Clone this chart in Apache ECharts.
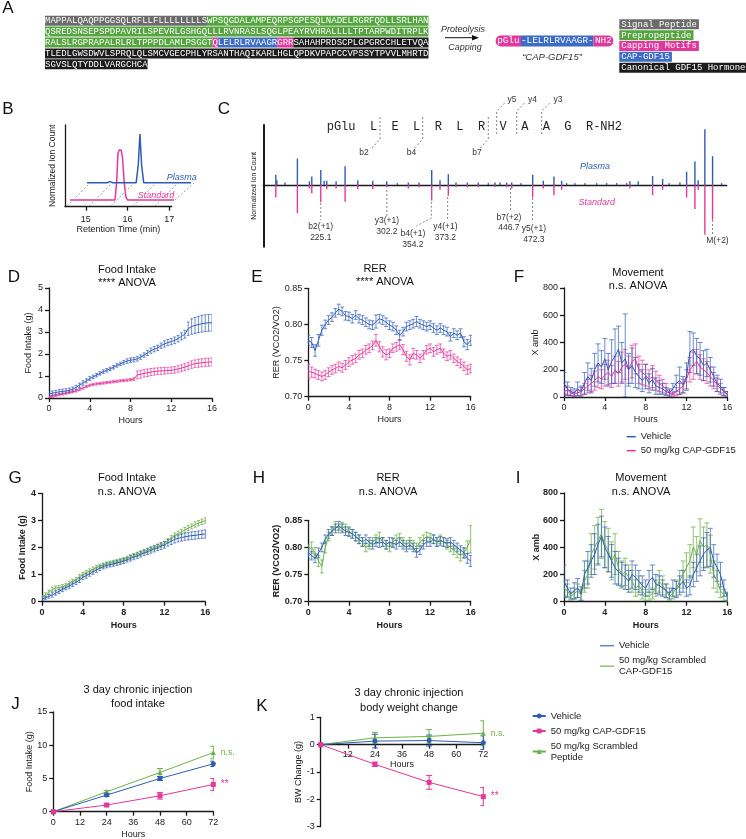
<!DOCTYPE html>
<html><head><meta charset="utf-8">
<script src="https://cdn.jsdelivr.net/npm/echarts@6/dist/echarts.min.js"></script>
<style>html,body{margin:0;padding:0;background:#fff}#c{width:746px;height:839px}</style>
</head><body><div id="c"></div>
<script>
// ================= DATA =================
// Panel A: GDF15 precursor sequence regions
const signalPeptide = 'MAPPALQAQPPGGSQLRFLLFLLLLLLLLS';
const prepropeptide = 'WPSQGDALAMPEQRPSGPESQLNADELRGRFQDLLSRLHANQSREDSNSEPSPDPAVRILSPEVRLGSHGQLLLRVNRASLSQGLPEAYRVHRALLLLTPTARPWDITRPLKRALSLRGPRAPALRLRLTPPPDLAMLPSGGT';
const capMotif1 = 'Q';
const capGdf15 = 'LELRLRVAAGR';
const capMotif2 = 'GRR';
const canonicalHormone = 'SAHAHPRDSCPLGPGRCCHLETVQATLEDLGWSDWVLSPRQLQLSMCVGECPHLYRSANTHAQIKARLHGLQPDKVPAPCCVPSSYTPVVLMHRTDSGVSLQTYDDLVARGCHCA';
const legendA = ['Signal Peptide', 'Prepropeptide', 'Capping Motifs', 'CAP-GDF15', 'Canonical GDF15 Hormone'];

// Panel B: retention time traces (min, normalized)
const stdTime = [14.62, 15.70, 15.74, 15.77, 15.80, 15.85, 15.88, 15.92, 15.96, 16.00, 17.13];
const stdSignal = [0.082, 0.082, 0.30, 0.65, 0.694, 0.69, 0.60, 0.30, 0.12, 0.082, 0.082];
const plasmaTime = [14.62, 15.10, 15.17, 15.24, 15.80, 15.85, 15.89, 15.93, 15.98, 17.25];
const plasmaSignal = [0.082, 0.082, 0.095, 0.082, 0.082, 0.30, 0.678, 0.30, 0.082, 0.082];
const retentionTicks = [15, 16, 17];

// Panel C: MS/MS spectrum (m/z, relative intensity)
const plasmaMz = [172.6,173.8,183.4,197.8,211.8,214.6,225.1,229.0,232.1,243.0,253.5,268.3,285.8,302.1,314.5,327.3,339.8,354.6,364.3,374.0,383.0,396.2,409.0,420.7,428.5,434.3,442.1,448.0,458.8,472.5,484.9,497.3,506.3,512.1,521.8,533.5,547.2,558.8,570.5,582.2,586.0,595.7,612.5,624.2,631.9,644.4,652.2,661.9,665.7,673.5,682.5,693.0];
const plasmaInt = [17,8,4,44,6,14,25,7,7,6,31,8,7,6,3,4,4,25,8,18,4,4,4,3,4,4,4,4,3,17,7,14,7,3,3,3,3,3,3,3,6,6,15,10,3,4,22,39,8,93,48,3];
const standardMz = [172.6,197.8,211.8,214.6,225.1,232.1,243.0,253.5,268.3,285.8,302.1,327.3,339.8,354.6,364.3,374.0,383.0,396.2,409.0,428.5,442.1,448.0,472.5,484.9,497.3,506.3,586.0,612.5,624.2,652.2,661.9,665.7,673.5,682.5];
const standardInt = [-21,-47,-6,-14,-29,-7,-6,-28,-7,-7,-4,-6,-4,-26,-8,-18,-4,-4,-4,-4,-4,-6,-21,-6,-17,-8,-6,-17,-8,-21,-40,-8,-83,-58];
const ionNames = ['b2(+1)', 'y3(+1)', 'b4(+1)', 'y4(+1)', 'b7(+2)', 'y5(+1)', 'M(+2)'];
const ionMz = [225.1, 302.2, 354.2, 373.2, 446.7, 472.3, 682.4];
const ionShowMz = [true, true, true, true, true, true, false];
const peptideSeq = 'pGlu  L  E  L  R  L  R  V  A  A  G  R-NH2';

// Panels D-I: time course (hours, 20-min bins)
const hours = []; for (let i = 0; i <= 48; i++) hours.push(i / 3);

const D_vehicle = [0.18,0.22,0.25,0.28,0.30,0.32, 0.35,0.40,0.48,0.58,0.68,0.78, 0.88,0.96,1.04,1.12,1.20,1.26, 1.32,1.40,1.48,1.55,1.62,1.68, 1.72,1.74,1.78,1.86,1.95,2.05, 2.15,2.22,2.28,2.38,2.46,2.52, 2.56,2.62,2.70,2.80,2.90,3.15, 3.25,3.30,3.34,3.38,3.40,3.42, 3.42];
const D_vehicleErr = [0.10,0.10,0.10,0.10,0.10,0.10, 0.10,0.10,0.10,0.10,0.10,0.09, 0.09,0.08,0.08,0.08,0.08,0.08, 0.08,0.08,0.08,0.08,0.09,0.10, 0.10,0.10,0.10,0.10,0.10,0.12, 0.12,0.12,0.12,0.12,0.14,0.14, 0.14,0.15,0.15,0.16,0.18,0.30, 0.35,0.36,0.37,0.38,0.38,0.38, 0.38];
const D_cap = [0.05,0.08,0.12,0.15,0.18,0.22, 0.25,0.28,0.32,0.38,0.45,0.52, 0.58,0.62,0.64,0.66,0.68,0.70, 0.72,0.74,0.76,0.78,0.80,0.81, 0.83,0.86,1.05,1.08,1.12,1.15, 1.18,1.20,1.22,1.23,1.24,1.25, 1.26,1.28,1.32,1.36,1.40,1.46, 1.52,1.56,1.58,1.60,1.62,1.63, 1.64];
const D_capErr = [0.05,0.05,0.05,0.05,0.05,0.05, 0.05,0.05,0.05,0.05,0.05,0.05, 0.05,0.05,0.05,0.05,0.05,0.05, 0.05,0.05,0.05,0.05,0.05,0.05, 0.05,0.06,0.18,0.18,0.17,0.17, 0.16,0.16,0.15,0.15,0.15,0.15, 0.15,0.15,0.15,0.15,0.16,0.16, 0.17,0.17,0.18,0.18,0.18,0.18, 0.18];

const E_vehicle = [0.778,0.775,0.764,0.778,0.792,0.800, 0.806,0.810,0.816,0.821,0.818,0.812, 0.811,0.808,0.813,0.808,0.806,0.803, 0.800,0.799,0.804,0.808,0.806,0.803, 0.799,0.797,0.792,0.785,0.790,0.797, 0.799,0.801,0.804,0.801,0.799,0.797, 0.799,0.795,0.792,0.795,0.792,0.790, 0.783,0.788,0.785,0.788,0.776,0.772, 0.778];
const E_vehicleErr = [0.007,0.007,0.008,0.008,0.007,0.006, 0.006,0.006,0.006,0.007,0.006,0.006, 0.006,0.006,0.006,0.006,0.006,0.006, 0.006,0.006,0.009,0.006,0.006,0.006, 0.006,0.006,0.006,0.007,0.006,0.006, 0.006,0.006,0.007,0.006,0.006,0.006, 0.006,0.006,0.006,0.006,0.006,0.006, 0.006,0.006,0.006,0.006,0.007,0.007, 0.007];
const E_cap = [0.735,0.734,0.732,0.730,0.728,0.730, 0.734,0.737,0.739,0.742,0.740,0.744, 0.748,0.751,0.753,0.758,0.760,0.765, 0.767,0.771,0.778,0.769,0.762,0.758, 0.760,0.767,0.769,0.772,0.765,0.756, 0.751,0.760,0.758,0.753,0.758,0.765, 0.767,0.762,0.765,0.767,0.760,0.756, 0.758,0.753,0.749,0.746,0.742,0.737, 0.739];
const E_capErr = [0.010,0.007,0.006,0.006,0.006,0.006, 0.006,0.006,0.006,0.006,0.006,0.006, 0.006,0.006,0.006,0.006,0.006,0.006, 0.006,0.006,0.008,0.007,0.007,0.007, 0.006,0.006,0.006,0.007,0.007,0.007, 0.007,0.007,0.006,0.006,0.006,0.006, 0.006,0.006,0.006,0.006,0.006,0.006, 0.006,0.006,0.006,0.006,0.006,0.006, 0.006];

const F_vehicle = [100,60,40,30,60,40, 100,150,120,200,250,220, 280,200,260,300,350,250, 280,200,230,180,150,120, 150,100,130,80,70,60, 40,30,60,100,120,90, 150,330,350,300,280,230, 250,200,150,100,80,40, 20];
const F_vehicleErr = [80,50,30,30,50,40, 80,100,90,120,140,120, 150,120,160,200,170,150, 330,120,130,110,90,80, 90,70,80,60,50,40, 30,30,40,60,100,60, 100,150,120,130,120,110, 100,90,70,60,50,30, 20];
const F_cap = [40,50,30,20,30,40, 60,80,100,120,150,130, 160,180,150,200,170,220, 240,200,260,280,200,180, 160,130,150,120,100,80, 60,30,20,40,60,80, 130,200,230,260,220,200, 180,150,120,90,60,40, 20];
const F_capErr = [30,30,20,15,20,30, 40,50,60,70,80,70, 80,90,80,100,90,110, 110,100,120,110,100,90, 80,70,80,70,60,50, 40,20,15,30,40,50, 70,90,100,90,90,80, 80,70,60,50,40,30, 20];

const G_vehicle = [0.10,0.14,0.20,0.25,0.32,0.38, 0.45,0.52,0.58,0.65,0.72,0.80, 0.90,0.96,1.03,1.10,1.17,1.24, 1.30,1.34,1.37,1.40,1.43,1.46, 1.50,1.55,1.60,1.65,1.70,1.75, 1.80,1.85,1.90,1.95,2.00,2.05, 2.10,2.17,2.23,2.30,2.34,2.37, 2.40,2.42,2.44,2.45,2.47,2.49, 2.50];
const G_vehicleErr = [0.06,0.07,0.07,0.08,0.08,0.08, 0.08,0.08,0.08,0.09,0.09,0.09, 0.09,0.09,0.09,0.09,0.09,0.09, 0.09,0.09,0.09,0.09,0.09,0.09, 0.09,0.09,0.10,0.10,0.10,0.10, 0.10,0.10,0.11,0.11,0.11,0.12, 0.12,0.12,0.12,0.13,0.13,0.13, 0.13,0.14,0.14,0.14,0.14,0.15, 0.15];
const G_scrambled = [0.15,0.25,0.35,0.45,0.50,0.52, 0.55,0.60,0.68,0.75,0.82,0.92, 1.00,1.07,1.13,1.20,1.26,1.31, 1.35,1.39,1.42,1.45,1.48,1.51, 1.55,1.60,1.65,1.70,1.75,1.80, 1.85,1.90,1.95,2.00,2.05,2.10, 2.15,2.25,2.35,2.45,2.52,2.58, 2.65,2.72,2.78,2.85,2.90,2.95, 3.00];
const G_scrambledErr = [0.08,0.08,0.08,0.08,0.08,0.08, 0.08,0.08,0.08,0.08,0.08,0.08, 0.08,0.08,0.08,0.08,0.08,0.08, 0.08,0.08,0.08,0.08,0.08,0.08, 0.08,0.08,0.08,0.08,0.08,0.08, 0.08,0.08,0.08,0.08,0.08,0.08, 0.08,0.08,0.09,0.09,0.09,0.09, 0.09,0.09,0.09,0.10,0.10,0.10, 0.10];

const H_vehicle = [0.790,0.785,0.780,0.790,0.800,0.815, 0.825,0.830,0.835,0.840,0.835,0.830, 0.828,0.825,0.820,0.815,0.810,0.815, 0.810,0.805,0.810,0.808,0.810,0.805, 0.810,0.808,0.805,0.810,0.805,0.800, 0.805,0.800,0.790,0.795,0.805,0.810, 0.810,0.815,0.810,0.812,0.810,0.808, 0.810,0.805,0.800,0.795,0.790,0.780, 0.775];
const H_vehicleErr = [0.010,0.008,0.008,0.009,0.008,0.008, 0.008,0.008,0.008,0.008,0.008,0.008, 0.008,0.008,0.008,0.008,0.008,0.008, 0.008,0.008,0.008,0.008,0.008,0.008, 0.008,0.008,0.008,0.008,0.008,0.008, 0.008,0.008,0.008,0.008,0.008,0.008, 0.008,0.008,0.008,0.008,0.008,0.008, 0.008,0.008,0.008,0.008,0.009,0.009, 0.010];
const H_scrambled = [0.795,0.800,0.790,0.775,0.765,0.800, 0.820,0.830,0.840,0.835,0.838,0.835, 0.830,0.825,0.820,0.815,0.810,0.800, 0.805,0.810,0.815,0.820,0.810,0.805, 0.800,0.810,0.815,0.818,0.810,0.805, 0.810,0.805,0.800,0.810,0.815,0.820, 0.818,0.815,0.810,0.815,0.810,0.805, 0.800,0.795,0.790,0.785,0.790,0.800, 0.815];
const H_scrambledErr = [0.010,0.010,0.010,0.010,0.012,0.010, 0.008,0.008,0.008,0.008,0.008,0.008, 0.008,0.008,0.008,0.008,0.008,0.008, 0.008,0.008,0.008,0.008,0.008,0.008, 0.008,0.008,0.008,0.008,0.008,0.008, 0.008,0.008,0.008,0.008,0.008,0.008, 0.008,0.008,0.008,0.008,0.008,0.008, 0.008,0.008,0.009,0.010,0.010,0.012, 0.025];

const I_vehicle = [150,100,60,80,100,60, 200,250,300,350,420,480, 400,350,300,250,220,200, 180,150,200,180,150,120, 100,150,180,130,120,100, 80,60,100,90,120,150, 100,120,200,250,300,350, 380,400,300,250,200,100, 40];
const I_vehicleErr = [120,60,40,60,70,50, 100,120,120,150,150,150, 150,130,120,120,100,90, 90,80,100,90,80,70, 60,80,90,70,70,60, 50,40,60,60,70,80, 60,70,90,100,110,120, 130,140,120,100,90,60, 30];
const I_scrambled = [100,80,40,60,80,50, 150,200,350,400,450,500, 420,380,300,350,250,200, 220,180,150,100,120,80, 50,40,60,100,150,120, 80,40,60,100,150,200, 250,300,400,350,450,400, 420,350,200,150,80,50, 30];
const I_scrambledErr = [60,50,30,40,50,40, 80,100,150,160,170,180, 170,160,140,150,120,100, 100,90,80,60,70,60, 40,30,40,60,80,70, 50,30,40,60,80,100, 110,120,150,130,160,150, 160,140,100,80,50,40, 30];

// Panels J-K: 3 day chronic injection
const dayHours = [0, 24, 48, 72];
const J_vehicle = [0, 2.5, 5.0, 7.2];      const J_vehicleErr = [0, 0.2, 0.3, 0.4];
const J_cap = [0, 1.0, 2.4, 4.1];          const J_capErr = [0, 0.15, 0.5, 0.9];
const J_scrambled = [0, 3.0, 5.9, 8.9];    const J_scrambledErr = [0, 0.2, 0.6, 0.95];
const K_vehicle = [0, 0.13, 0.15, 0.07];   const K_vehicleErr = [0, 0.25, 0.2, 0.25];
const K_cap = [0, -0.72, -1.38, -1.9];     const K_capErr = [0, 0.08, 0.25, 0.33];
const K_scrambled = [0, 0.25, 0.3, 0.42];  const K_scrambledErr = [0, 0.2, 0.25, 0.45];

// ================= STYLE =================
const FF = "'Liberation Sans', Arial, Helvetica, sans-serif";
const MONO = "'Liberation Mono', 'DejaVu Sans Mono', monospace";
const BLUE = '#2f5cb5', MAG = '#e2379b', GREEN = '#6cb04a', INK = '#1a1a1a';
const regionColors = {sp: '#6b6b6b', pp: '#55a43f', cm: '#e2379b', cg: '#3d6cc4', hg: '#1c1c1c'};

const chart = echarts.init(document.getElementById('c'), null, {renderer: 'canvas', width: 746, height: 839});
const graphics = [];
function txt(x, y, text, o) {
  o = o || {};
  graphics.push({type: 'text', x: x, y: y, silent: true, z: 100,
    style: {text: text, fill: o.color || '#222', fontSize: o.size || 11, fontFamily: o.family || FF,
      fontStyle: o.italic ? 'italic' : 'normal', fontWeight: o.bold ? 'bold' : 'normal',
      align: o.align || 'center', verticalAlign: 'middle', rich: o.rich}});
}
function dashed(points, color) {
  graphics.push({type: 'polyline', silent: true, z: 90, shape: {points: points},
    style: {stroke: color || '#777', lineWidth: 0.9, lineDash: [2, 2], fill: null}});
}

// ---------- Panel A ----------
const richA = {};
Object.keys(regionColors).forEach(k => {
  richA[k] = {backgroundColor: regionColors[k], fill: '#fff', color: '#fff', fontFamily: MONO, fontSize: 9, lineHeight: 9, padding: [0.5, 0]};
});
const segs = [[signalPeptide, 'sp'], [prepropeptide, 'pp'], [capMotif1, 'cm'], [capGdf15, 'cg'], [capMotif2, 'cm'], [canonicalHormone, 'hg']];
const rowsA = [[]]; let cnt = 0;
segs.forEach(([s, k]) => {
  for (const ch of s) {
    if (cnt === 71) { rowsA.push([]); cnt = 0; }
    const row = rowsA[rowsA.length - 1];
    if (row.length && row[row.length - 1][1] === k) row[row.length - 1][0] += ch; else row.push([ch, k]);
    cnt++;
  }
});
rowsA.forEach((row, r) => {
  txt(45, 20.7 + r * 10.9, row.map(([s, k]) => '{' + k + '|' + s + '}').join(''), {align: 'left', rich: richA});
});
const legKeys = ['sp', 'pp', 'cm', 'cg', 'hg'];
legendA.forEach((s, i) => {
  const rk = {}; rk.t = Object.assign({}, richA[legKeys[i]], {padding: [0.5, 2]});
  txt(619.3, 24.3 + i * 10.85, '{t|' + s + '}', {align: 'left', rich: rk});
});
txt(463, 29, 'Proteolysis', {size: 9, italic: true, color: '#333'});
txt(465, 47.7, 'Capping', {size: 9, italic: true, color: '#333'});
graphics.push({type: 'line', silent: true, shape: {x1: 445, y1: 37.7, x2: 474, y2: 37.7}, style: {stroke: '#111', lineWidth: 1}});
graphics.push({type: 'polygon', silent: true, shape: {points: [[479, 37.7], [472, 35], [472, 40.4]]}, style: {fill: '#111'}});
txt(495.7, 41, '{m|pGlu}{b|-' + capGdf15 + '-}{n|NH2}', {align: 'left', rich: {
  m: {backgroundColor: MAG, fill: '#fff', color: '#fff', fontFamily: MONO, fontSize: 9.3, lineHeight: 10, padding: [1, 1.5], borderRadius: [5, 0, 0, 5]},
  b: {backgroundColor: '#3d6cc4', fill: '#fff', color: '#fff', fontFamily: MONO, fontSize: 9.3, lineHeight: 10, padding: [1, 0]},
  n: {backgroundColor: MAG, fill: '#fff', color: '#fff', fontFamily: MONO, fontSize: 9.3, lineHeight: 10, padding: [1, 1.5], borderRadius: [0, 5, 5, 0]}
}});
txt(552, 57.3, '\u201CCAP-GDF15\u201D', {size: 9.5, italic: true, color: '#333'});

// ---------- Panel letters & titles ----------
[['A', 8, 8.3], ['B', 8, 109], ['C', 224, 109], ['D', 14, 277], ['E', 257, 277], ['F', 519, 277],
 ['G', 15, 478], ['H', 259, 478], ['I', 518, 478], ['J', 15.5, 704], ['K', 262, 706]].forEach(([t, x, y]) => txt(x, y, t, {size: 17, color: '#111'}));
[['Food Intake', 127, 270], ['**** ANOVA', 127, 283], ['RER', 375, 269.3], ['**** ANOVA', 385, 282],
 ['Movement', 638, 273], ['n.s. ANOVA', 638, 286], ['Food Intake', 127, 478], ['n.s. ANOVA', 127, 492],
 ['RER', 388, 478], ['n.s. ANOVA', 388, 492], ['Movement', 641, 478], ['n.s. ANOVA', 641, 492],
 ['3 day chronic injection', 138, 690], ['food intake', 138, 704],
 ['3 day chronic injection', 409, 693], ['body weight change', 409, 707.7]].forEach(([t, x, y]) => txt(x, y, t, {size: 11, color: '#111'}));

// ---------- Panel B decorations ----------
[67, 89, 111, 133, 155].forEach(x0 => dashed([[x0, 206], [x0 + 22, 184]], '#9a9a9a'));
dashed([[175, 200], [194, 183]], '#9a9a9a');
txt(181.7, 177.7, 'Plasma', {size: 9, italic: true, color: BLUE});
txt(156, 195, 'Standard', {size: 9, italic: true, color: MAG});

// ---------- Panel C annotations ----------
txt(326.7, 126.7, peptideSeq, {family: MONO, size: 12, align: 'left', color: '#222'});
[[380, 'b2', 364], [422.7, 'b4', 411.5], [488.3, 'b7', 477]].forEach(([x, t, lx]) => {
  dashed([[x, 117], [x, 139], [x - 8, 148]], '#777');
  txt(lx, 152.5, t, {size: 8.5, color: '#333'});
});
[[496.7, 'y5', 512], [516.7, 'y4', 532.5], [541.7, 'y3', 558]].forEach(([x, t, lx]) => {
  dashed([[x, 134], [x, 111], [x + 8, 103]], '#777');
  txt(lx, 99.3, t, {size: 8.5, color: '#333'});
});
txt(595, 166.7, 'Plasma', {size: 9, italic: true, color: BLUE});
txt(596.7, 202.7, 'Standard', {size: 9, italic: true, color: MAG});

// ================= AXES & GRIDS =================
const grids = [
  {left: 65, top: 125, width: 106.7, height: 81.7},      // 0 B standard
  {left: 82, top: 107.7, width: 106.7, height: 81.7},    // 1 B plasma (offset)
  {left: 263.3, top: 125, width: 463.4, height: 121.7},  // 2 C
  {left: 49, top: 288, width: 163, height: 110},         // 3 D
  {left: 308.3, top: 288.3, width: 162.4, height: 108.4},// 4 E
  {left: 564, top: 288, width: 163.3, height: 109},      // 5 F
  {left: 42, top: 493.4, width: 163.3, height: 108.3},   // 6 G
  {left: 308.3, top: 520.3, width: 162.4, height: 81.4}, // 7 H
  {left: 564, top: 493, width: 163.3, height: 108.7},    // 8 I
  {left: 53.3, top: 712, width: 160, height: 99.7},      // 9 J
  {left: 320.7, top: 717.3, width: 162.6, height: 109.4},// 10 K (data + y axis)
  {left: 320.7, top: 717.3, width: 162.6, height: 27.35} // 11 K x axis, running along y = 0 (top quarter of the 1..-3 range)
].map(g => Object.assign({containLabel: false, outerBoundsMode: 'none'}, g));

function axis(gi, o) {
  const lw = o.lw || 1.3;
  const fw = o.bold ? 'bold' : 'normal';
  return {
    type: 'value', gridIndex: gi, min: o.min, max: o.max, interval: o.interval, show: o.show !== false,
    axisLine: {show: o.line !== false, onZero: !!o.onZero, lineStyle: {color: INK, width: lw}},
    axisTick: Object.assign({show: o.ticks !== false, length: 4, lineStyle: {color: INK, width: lw}}, o.tickExtra || {}),
    axisLabel: Object.assign({show: o.labels !== false, fontSize: 9, color: '#222', fontFamily: FF, margin: o.margin || 6, fontWeight: fw, formatter: o.fmt}, o.labelExtra || {}),
    splitLine: {show: false},
    name: o.name, nameLocation: 'middle', nameGap: o.gap, nameRotate: o.rot, nameMoveOverlap: false,
    nameTextStyle: {fontSize: o.nameSize || 9, color: '#222', fontFamily: FF, fontWeight: fw}
  };
}
const f2 = v => v.toFixed(2);
const xAxes = [
  axis(0, {min: 14.5, max: 17.06, name: 'Retention Time (min)', gap: 18, margin: 8,
    tickExtra: {customValues: retentionTicks}, labelExtra: {customValues: retentionTicks}}),
  axis(1, {min: 14.5, max: 17.06, show: false}),
  axis(2, {min: 158, max: 699, onZero: true, ticks: false, labels: false, lw: 1.4}),
  axis(3, {min: 0, max: 16, interval: 4, name: 'Hours', gap: 18}),
  axis(4, {min: 0, max: 16, interval: 4, name: 'Hours', gap: 18}),
  axis(5, {min: 0, max: 16, interval: 4, name: 'Hours', gap: 18}),
  axis(6, {min: 0, max: 16, interval: 4, name: 'Hours', gap: 19, bold: true}),
  axis(7, {min: 0, max: 16, interval: 4, name: 'Hours', gap: 19, bold: true}),
  axis(8, {min: 0, max: 16, interval: 4, name: 'Hours', gap: 19, bold: true}),
  axis(9, {min: 0, max: 72, interval: 12, name: 'Hours', gap: 18}),
  axis(10, {min: 0, max: 72, interval: 12, show: false}),
  axis(11, {min: 0, max: 72, interval: 12, name: 'Hours', gap: 15, margin: 5, fmt: v => v === 0 ? '' : String(v)})
];
const yAxes = [
  axis(0, {min: 0, max: 1, ticks: false, labels: false, name: 'Normalized Ion Count', gap: 8, nameSize: 8.5}),
  axis(1, {min: 0, max: 1, show: false}),
  axis(2, {min: -103, max: 100, ticks: false, labels: false, lw: 2, name: 'Normalized Ion Count', gap: 6, nameSize: 7}),
  axis(3, {min: 0, max: 5, interval: 1, name: 'Food Intake (g)', gap: 16}),
  axis(4, {min: 0.70, max: 0.85, interval: 0.05, fmt: f2, name: 'RER (VCO2/VO2)', gap: 27}),
  axis(5, {min: 0, max: 800, interval: 200, name: 'X amb', gap: 24}),
  axis(6, {min: 0, max: 4, interval: 1, name: 'Food Intake (g)', gap: 15, bold: true}),
  axis(7, {min: 0.70, max: 0.85, interval: 0.05, fmt: f2, name: 'RER (VCO2/VO2)', gap: 27, bold: true}),
  axis(8, {min: 0, max: 800, interval: 200, name: 'X amb', gap: 23, bold: true}),
  axis(9, {min: 0, max: 15, interval: 5, name: 'Food Intake (g)', gap: 19}),
  axis(10, {min: -3, max: 1, interval: 1, name: 'BW Change (g)', gap: 18}),
  axis(11, {min: 0, max: 1, show: false})
];

// ================= SERIES =================
const series = [];
function pairs(xs, ys) { return xs.map((x, i) => [x, ys[i]]); }
series.push({type: 'line', xAxisIndex: 0, yAxisIndex: 0, data: pairs(stdTime, stdSignal), symbol: 'none', clip: false,
  lineStyle: {color: MAG, width: 1.5}, itemStyle: {color: MAG}, silent: true, z: 3});
series.push({type: 'line', xAxisIndex: 1, yAxisIndex: 1, data: pairs(plasmaTime, plasmaSignal), symbol: 'none', clip: false,
  lineStyle: {color: BLUE, width: 1.5}, itemStyle: {color: BLUE}, silent: true, z: 3});

function sticks(mz, inten, color) {
  return {type: 'custom', xAxisIndex: 2, yAxisIndex: 2, data: pairs(mz, inten), clip: false, silent: true, z: 3,
    renderItem: (p, api) => {
      const a = api.coord([api.value(0), 0]), b = api.coord([api.value(0), api.value(1)]);
      return {type: 'line', shape: {x1: a[0], y1: a[1], x2: b[0], y2: b[1]}, style: {stroke: color, lineWidth: 1.4}};
    }};
}
series.push(sticks(plasmaMz, plasmaInt, BLUE));
series.push(sticks(standardMz, standardInt, MAG));
// ion annotation layout (pixel offsets relative to ion position)
const ionLayout = [
  {top: 203, bot: 220, lx: 0, ly: 227}, {top: 190, bot: 216.7, lx: 0, ly: 221},
  {top: 201.7, bot: 218, bend: [-15, 8], lx: -18.4, ly: 234}, {top: 197, bot: 220, lx: -2.3, ly: 227},
  {top: 188, bot: 211.7, lx: -1.7, ly: 217.5}, {top: 198, bot: 221.7, lx: 1.3, ly: 229},
  {top: 220, bot: 235, lx: 5, ly: 241}
];
series.push({type: 'custom', xAxisIndex: 2, yAxisIndex: 2, data: ionMz.map(m => [m, 0]), clip: false, silent: true, z: 4,
  renderItem: (p, api) => {
    const i = p.dataIndex, L = ionLayout[i];
    const x = api.coord([api.value(0), 0])[0];
    const pts = [[x, L.top], [x, L.bot]];
    if (L.bend) pts.push([x + L.bend[0], L.bot + L.bend[1]]);
    const ch = [{type: 'polyline', shape: {points: pts}, style: {stroke: '#777', lineWidth: 0.9, lineDash: [2, 2], fill: null}},
      {type: 'text', x: x + L.lx, y: L.ly, style: {text: ionNames[i], fill: '#333', fontSize: 8.5, fontFamily: FF, align: 'center', verticalAlign: 'middle'}}];
    if (ionShowMz[i]) ch.push({type: 'text', x: x + L.lx, y: L.ly + 10.5, style: {text: ionMz[i].toFixed(1), fill: '#333', fontSize: 8.5, fontFamily: FF, align: 'center', verticalAlign: 'middle'}});
    return {type: 'group', children: ch};
  }});

function errBars(gi, xs, mean, err, color, cap, opacity, floor) {
  return {type: 'custom', xAxisIndex: gi, yAxisIndex: gi, silent: true, clip: true, z: 2,
    data: xs.map((x, i) => [x, mean[i], err[i]]), encode: {x: 0, y: 1},
    itemStyle: {color: color},
    renderItem: (p, api) => {
      const x = api.value(0), m = api.value(1), e = api.value(2);
      const lowV = floor === undefined ? m - e : Math.max(m - e, floor);
      const hi = api.coord([x, m + e]), lo = api.coord([x, lowV]);
      const st = {stroke: color, lineWidth: 1, opacity: opacity};
      return {type: 'group', children: [
        {type: 'line', shape: {x1: hi[0], y1: hi[1], x2: lo[0], y2: lo[1]}, style: st},
        {type: 'line', shape: {x1: hi[0] - cap, y1: hi[1], x2: hi[0] + cap, y2: hi[1]}, style: st},
        {type: 'line', shape: {x1: lo[0] - cap, y1: lo[1], x2: lo[0] + cap, y2: lo[1]}, style: st}
      ]};
    }};
}
function meanLine(gi, name, xs, mean, color) {
  return {type: 'line', name: name, xAxisIndex: gi, yAxisIndex: gi, data: pairs(xs, mean), symbol: 'none',
    lineStyle: {color: color, width: 1}, itemStyle: {color: color}, color: color, silent: true, z: 3};
}
const N1V = 'Vehicle', N1C = '50 mg/kg CAP-GDF15';
const N2V = 'Vehicle ', N2S = '50 mg/kg Scrambled\nCAP-GDF15';
const N3V = 'Vehicle  ', N3C = '50 mg/kg CAP-GDF15 ', N3S = '50 mg/kg Scrambled\nPeptide';

// D, E, F
[[3, D_cap, D_capErr, D_vehicle, D_vehicleErr, 1.5, undefined],
 [4, E_cap, E_capErr, E_vehicle, E_vehicleErr, 2, undefined],
 [5, F_cap, F_capErr, F_vehicle, F_vehicleErr, 2.5, 0]].forEach(([gi, c, ce, v, ve, cap, fl]) => {
  series.push(errBars(gi, hours, c, ce, MAG, cap, 0.7, fl));
  series.push(meanLine(gi, N1C, hours, c, MAG));
  series.push(errBars(gi, hours, v, ve, BLUE, cap, 0.7, fl));
  series.push(meanLine(gi, N1V, hours, v, BLUE));
});
// G, H, I
[[6, G_scrambled, G_scrambledErr, G_vehicle, G_vehicleErr, 1.5, undefined],
 [7, H_scrambled, H_scrambledErr, H_vehicle, H_vehicleErr, 2, undefined],
 [8, I_scrambled, I_scrambledErr, I_vehicle, I_vehicleErr, 2.5, 0]].forEach(([gi, s, se, v, ve, cap, fl]) => {
  series.push(errBars(gi, hours, s, se, GREEN, cap, 0.75, fl));
  series.push(meanLine(gi, N2S, hours, s, GREEN));
  series.push(errBars(gi, hours, v, ve, BLUE, cap, 0.7, fl));
  series.push(meanLine(gi, N2V, hours, v, BLUE));
});
// J, K
function chronic(gi, name, mean, err, color, symbol, size, note) {
  series.push(errBars(gi, dayHours, mean, err, color, 3, 1));
  const data = mean.map((v, i) => (i === mean.length - 1 && note)
    ? {value: [dayHours[i], v], label: {show: true, position: 'right', distance: 5, formatter: note, color: color, fontSize: note === '**' ? 10 : 8.5, fontFamily: FF}}
    : [dayHours[i], v]);
  series.push({type: 'line', name: name, xAxisIndex: gi, yAxisIndex: gi, data: data, symbol: symbol, symbolSize: size, showSymbol: true,
    lineStyle: {color: color, width: 1}, itemStyle: {color: color}, color: color, silent: true, z: 3});
}
chronic(9, N3S, J_scrambled, J_scrambledErr, GREEN, 'triangle', 5, 'n.s.');
chronic(9, N3V, J_vehicle, J_vehicleErr, BLUE, 'circle', 5);
chronic(9, N3C, J_cap, J_capErr, MAG, 'rect', 5, '**');
chronic(10, N3S, K_scrambled, K_scrambledErr, GREEN, 'triangle', 5, 'n.s.');
chronic(10, N3V, K_vehicle, K_vehicleErr, BLUE, 'circle', 5);
chronic(10, N3C, K_cap, K_capErr, MAG, 'rect', 5, '**');

const legText = {fontSize: 9.5, fontFamily: FF, color: '#222', lineHeight: 11};
const option = {
  animation: false,
  backgroundColor: '#fff',
  grid: grids, xAxis: xAxes, yAxis: yAxes, series: series,
  legend: [
    {orient: 'vertical', left: 626.7, top: 431.2, padding: 0, itemGap: 3, itemWidth: 9, itemHeight: 1.5, icon: 'rect',
      data: [N1V, N1C], textStyle: legText, selectedMode: false},
    {orient: 'vertical', left: 600, top: 640.2, padding: 0, itemGap: 4, itemWidth: 14, itemHeight: 1.5, icon: 'rect',
      data: [N2V, N2S], textStyle: legText, selectedMode: false, itemStyle: {opacity: 0.75}},
    {orient: 'vertical', left: 531.7, top: 710.5, padding: 0, itemGap: 4, itemWidth: 13, itemHeight: 6,
      data: [N3V, N3C, N3S], textStyle: legText, selectedMode: false}
  ],
  graphic: {elements: graphics}
};
chart.setOption(option);
</script>
</body></html>
